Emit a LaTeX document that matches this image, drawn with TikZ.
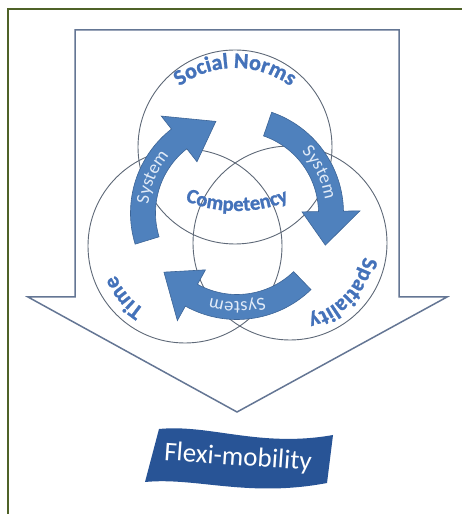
\documentclass[tikz,border=0pt]{standalone}
\usepackage{fontspec}
\setmainfont{Carlito}
\newfontfamily\heavyfont{Carlito}[BoldFeatures={FakeBold=1.2}]
\usetikzlibrary{decorations.text}
\definecolor{frameg}{RGB}{79,98,40}
\definecolor{arrowline}{RGB}{100,118,148}
\definecolor{circline}{RGB}{95,105,120}
\definecolor{cycfill}{RGB}{79,129,189}
\definecolor{cycedge}{RGB}{60,100,150}
\definecolor{lbltext}{RGB}{68,114,186}
\definecolor{systext}{RGB}{225,235,248}
\definecolor{bannerc}{RGB}{40,84,150}
\newcommand\cyclearrow[3]{%
  \filldraw[cycarrow] (#1:106.5) arc[start angle=#1, end angle=#2, radius=106.5]
    -- (#2:123) -- (#3:94) -- (#2:65) -- (#2:81.5)
    arc[start angle=#2, end angle=#1, radius=81.5] -- cycle;}
\begin{document}
\begin{tikzpicture}[x=1pt,y=1pt,
  bigarrow/.style={draw=arrowline, line width=1.5, line join=miter},
  venn/.style={draw=circline, line width=0.9},
  cycarrow/.style={fill=cycfill, draw=cycedge, line width=0.6, line join=miter},
  bigtext/.style={decorate, decoration={text along path, text align=center, text color=lbltext}},
  systemtext/.style={decorate, decoration={text along path, text align=center, text color=systext,
      text={|\fontsize{18.5}{18.5}\selectfont|System}}}]
\useasboundingbox (0,0) rectangle (462,514);
\fill[white] (0,0) rectangle (462,514);
\draw[frameg, line width=2] (8,-5) -- (8,504.7) -- (470,504.7);
% big arrow
\draw[bigarrow] (75,484) -- (399,484) -- (399,217) -- (447,217) -- (237,102)
  -- (28,217) -- (75,217) -- cycle;
% circles
\draw[venn] (235,367) circle[radius=97];
\draw[venn] (185,268) circle[radius=97];
\draw[venn] (290,271) circle[radius=97];
% cycle arrows
\begin{scope}[shift={(237,301)}]
  \cyclearrow{197}{128}{103}
  \cyclearrow{71}{1}{-20}
  \cyclearrow{-46}{-119}{-141}
  \path[systemtext] (195:89) arc[start angle=195, end angle=119, radius=89];
  \path[systemtext] (64:89) arc[start angle=64, end angle=-12, radius=89];
  \path[systemtext] (-52:89) arc[start angle=-52, end angle=-128, radius=89];
\end{scope}
% labels
\path[bigtext, decoration={text={|\fontsize{22}{22}\heavyfont\bfseries|Social Norms}}]
  (235,353) ++(150:93) arc[start angle=150, end angle=30, radius=93];
\path[bigtext, decoration={text={|\fontsize{20.5}{20.5}\heavyfont\bfseries|Competency}}]
  (237,439) ++(-122:136) arc[start angle=-122, end angle=-58, radius=136];
\path[bigtext, decoration={text={|\fontsize{22}{22}\heavyfont\bfseries|Time}}]
  (185,268) ++(250:75) arc[start angle=250, end angle=190, radius=75];
\path[bigtext, decoration={text={|\fontsize{22}{22}\heavyfont\bfseries|Spatiality}}]
  (290,271) ++(0:75) arc[start angle=0, end angle=-87, radius=75];
% banner
\fill[bannerc] (159,85) .. controls (210,90) and (260,66) .. (333,79) -- (327,31)
  .. controls (248,16) and (196,37) .. (145,32) -- cycle;
\node[text=white, font=\fontsize{27}{27}\selectfont, rotate=-4] (flexi) at (238,56) {Flexi-mobility};
\end{tikzpicture}
\end{document}
